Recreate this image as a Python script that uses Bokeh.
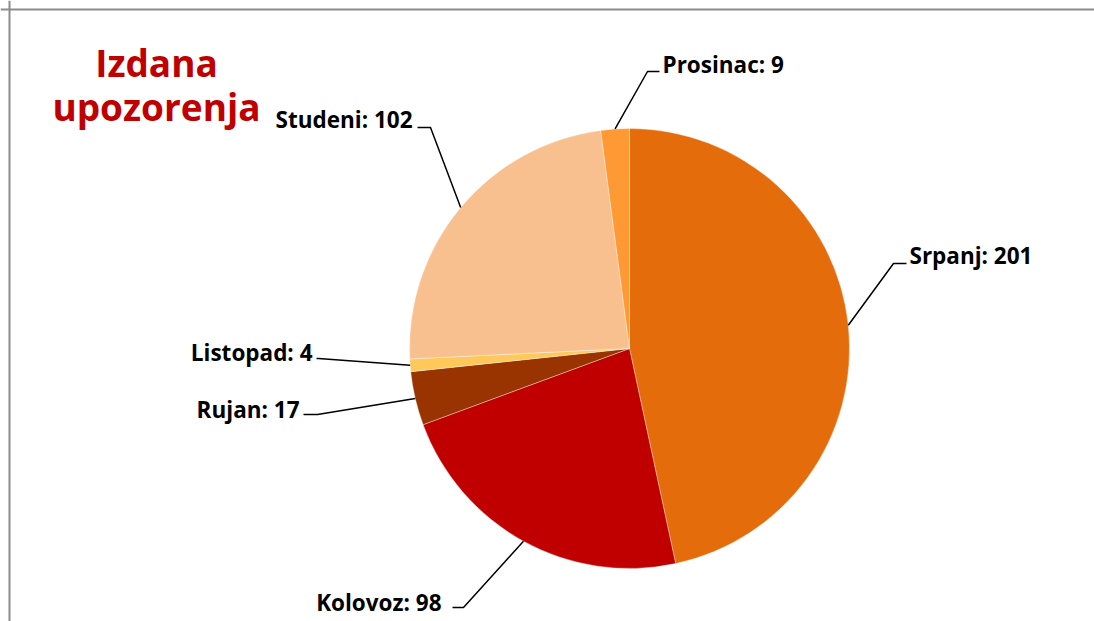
import math
from bokeh.plotting import figure
from bokeh.models import Range1d, Span, ColumnDataSource
from bokeh.core.properties import value
from bokeh.embed import file_html
from bokeh.resources import INLINE

# ---- data ----
months = ["Srpanj", "Kolovoz", "Rujan", "Listopad", "Studeni", "Prosinac"]
counts = [201, 98, 17, 4, 102, 9]
colors = ["#E46C0A", "#C00000", "#993300", "#FFC85A", "#F9C08F", "#FF9933"]
title_lines = ["Izdana", "upozorenja"]

# ---- layout (page pixel coordinates) ----
W, H = 1094, 621
def X(px):
    return px
def Y(py):
    return H - py

cx, cy, R = 629, 348, 220
label_pos = {  # text anchor, alignment, elbow, line end
    "Srpanj":   ((909, 255), "left",  (893, 263), (906, 263)),
    "Kolovoz":  ((441, 602), "right", (463, 607), (452, 607)),
    "Rujan":    ((299, 409), "right", (317, 414), (303, 414)),
    "Listopad": ((312, 352), "right", (318, 358), (316, 358)),
    "Studeni":  ((412, 119), "right", (430, 127), (417, 127)),
    "Prosinac": ((662, 64),  "left",  (647, 71),  (659, 71)),
}

p = figure(width=W, height=H, x_range=Range1d(0, W), y_range=Range1d(0, H),
           output_backend="svg", toolbar_location=None, min_border=0)
p.axis.visible = False
p.grid.visible = False
p.outline_line_color = None
p.background_fill_color = "white"

total = sum(counts)
starts, ends = [], []
cum = 0
for v in counts:
    starts.append(math.pi / 2 - 2 * math.pi * cum / total)
    ends.append(math.pi / 2 - 2 * math.pi * (cum + v) / total)
    cum += v

src = ColumnDataSource(dict(start=starts, end=ends, color=colors, month=months, count=counts))
p.wedge(x=X(cx), y=Y(cy), radius=R, radius_units="screen", start_angle="start", end_angle="end",
        direction="clock", fill_color="color", line_color="white", line_width=0.6, line_alpha=0.6,
        source=src)

# leader lines and labels
cum = 0
for m, v in zip(months, counts):
    mid = 2 * math.pi * (cum + v / 2) / total
    cum += v
    ex, ey = cx + R * math.sin(mid), cy - R * math.cos(mid)
    (tx, ty), align, (bx, by), (lx, ly) = label_pos[m]
    p.line([X(ex), X(bx), X(lx)], [Y(ey), Y(by), Y(ly)], line_color="black", line_width=1.5)
    p.text(x=[X(tx)], y=[Y(ty)], text=[f"{m}: {v}"], text_font=value("Open Sans"),
           text_font_style="bold", text_font_size="22.5px", text_align=align,
           text_baseline="middle", text_color="black")

# title
p.text(x=[X(156), X(156)], y=[Y(62), Y(106)], text=title_lines, text_font=value("Open Sans"),
       text_font_style="bold", text_font_size="37px", text_align="center",
       text_baseline="middle", text_color="#C00000")

# chart frame (only left and top visible in view)
p.add_layout(Span(location=X(9), dimension="height", line_color="#8C8C8C", line_width=2))
p.add_layout(Span(location=Y(9), dimension="width", line_color="#8C8C8C", line_width=2))

open("out.html", "w").write(file_html(p, INLINE))
